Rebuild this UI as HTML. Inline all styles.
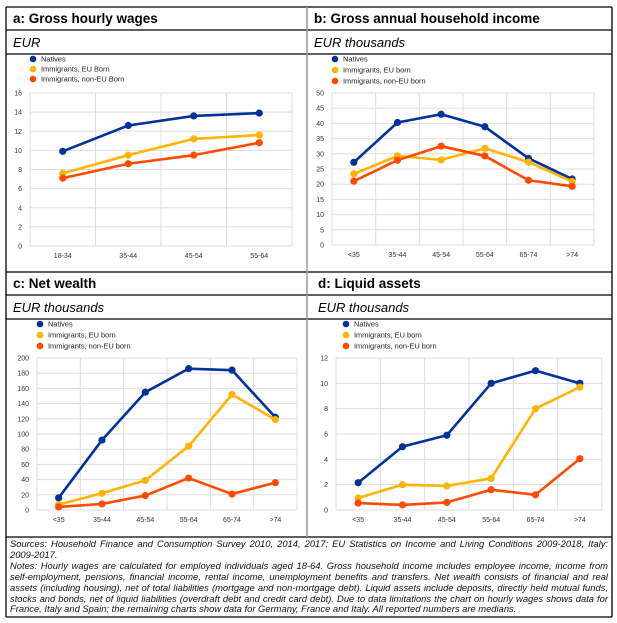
<!DOCTYPE html>
<html><head><meta charset="utf-8"><style>
body{margin:0;background:#fff;width:617px;height:623px;overflow:hidden;position:relative;font-family:"Liberation Sans",sans-serif}
svg{position:absolute;left:0;top:0}
#foot{position:absolute;left:10px;top:539px;width:598px;font-size:9.4px;line-height:10.9px;font-style:italic;color:#111;text-align:justify}
</style></head><body>
<svg id="s" width="617" height="623"></svg>
<div id="foot">Sources: Household Finance and Consumption Survey 2010, 2014, 2017; EU Statistics on Income and Living Conditions 2009-2018, Italy: 2009-2017.<br>Notes: Hourly wages are calculated for employed individuals aged 18-64. Gross household income includes employee income, income from self-employment, pensions, financial income, rental income, unemployment benefits and transfers. Net wealth consists of financial and real assets (including housing), net of total liabilities (mortgage and non-mortgage debt). Liquid assets include deposits, directly held mutual funds, stocks and bonds, net of liquid liabilities (overdraft debt and credit card debt). Due to data limitations the chart on hourly wages shows data for France, Italy and Spain; the remaining charts show data for Germany, France and Italy. All reported numbers are medians.</div>
<script>
const catsA=["18-34","35-44","45-54","55-64"];
const catsB=["<35","35-44","45-54","55-64","65-74",">74"];
const aNat=[9.9,12.6,13.6,13.9];
const aEU=[7.6,9.5,11.2,11.6];
const aNon=[7.1,8.6,9.5,10.8];
const bNat=[27.2,40.3,43,38.9,28.5,21.7];
const bEU=[23.4,29.3,28,31.8,27.3,20.9];
const bNon=[21,27.9,32.5,29.3,21.3,19.3];
const cNat=[16,92,155,186,184,122];
const cEU=[7,22,39,84,152,119];
const cNon=[4,8,19,42,21,36];
const dNat=[2.15,5,5.9,10,11,10];
const dEU=[0.95,2,1.9,2.5,8,9.7];
const dNon=[0.55,0.4,0.6,1.6,1.2,4.05];
const ticksA=[0,2,4,6,8,10,12,14,16];
const ticksB=[0,5,10,15,20,25,30,35,40,45,50];
const ticksC=[0,20,40,60,80,100,120,140,160,180,200];
const ticksD=[0,2,4,6,8,10,12];
const COL=["#003299","#ffb400","#ff4b00"];
const NS="http://www.w3.org/2000/svg";
const svg=document.getElementById('s');
function el(t,a,p){const e=document.createElementNS(NS,t);for(const k in a)e.setAttribute(k,a[k]);(p||svg).appendChild(e);return e;}
function ln(x1,y1,x2,y2,w){return el('line',{x1,y1,x2,y2,stroke:'#000','stroke-width':w||1.3});}
ln(6,7,612,7);ln(6,30,612,30);ln(6,54,612,54);ln(6,272,612,272);ln(6,295,612,295);ln(6,319,612,319);ln(6,537,612,537);ln(6,617,612,617);
ln(6,7,6,617);ln(612,7,612,617);
el('line',{x1:307,y1:7,x2:307,y2:537,stroke:'#999','stroke-width':1.5});
function panel(o){
  const g=el('g',{});
  
  
  const t=el('text',{x:o.tx,y:o.ty,'font-size':13.5,'font-weight':'bold',fill:'#000'},g);t.textContent=o.title;
  
  const st=el('text',{x:o.tx,y:o.ty+24,'font-size':13,'font-style':'italic',fill:'#000'},g);st.textContent=o.sub;
  
  const n=o.cats.length,bw=(o.x1-o.x0)/n;
  const xs=i=>o.x0+bw*(i+0.5);
  const ymax=o.ticks[o.ticks.length-1];
  const ys=v=>o.y1-(v/ymax)*(o.y1-o.y0);
  o.ticks.forEach(tv=>{
    el('line',{x1:o.x0,x2:o.x1,y1:ys(tv),y2:ys(tv),stroke:'#ddd','stroke-width':1},g);
    const tl=el('text',{x:o.x0-8,y:ys(tv)+2.5,'font-size':7,'text-anchor':'end',fill:'#333'},g);tl.textContent=tv;
    
  });
  for(let i=0;i<=n;i++)el('line',{x1:o.x0+bw*i,x2:o.x0+bw*i,y1:o.y0,y2:o.y1,stroke:'#ddd','stroke-width':1},g);
  o.cats.forEach((c,i)=>{const tl=el('text',{x:xs(i),y:o.y1+12,'font-size':7,'text-anchor':'middle',fill:'#333'},g);tl.textContent=c;
    });
  o.series.forEach((s,k)=>{
    const pts=s.map((v,i)=>xs(i)+','+ys(v)).join(' ');
    const pl=el('polyline',{points:pts,fill:'none',stroke:COL[k],'stroke-width':2.6,'stroke-linejoin':'round'},g);
    
    s.forEach((v,i)=>{const c=el('circle',{cx:xs(i),cy:ys(v),r:3.6,fill:COL[k]},g);
      });
  });
  o.leg.forEach((l,k)=>{
    const c=el('circle',{cx:o.lx,cy:o.ly+k*o.ls,r:3.3,fill:COL[k]},g);
    
    const tx=el('text',{x:o.lx+8,y:o.ly+k*o.ls+2.5,'font-size':7.4,fill:'#222'},g);tx.textContent=l;
    
  });
}
panel({name:'panel-a-wages',title:'a: Gross hourly wages',sub:'EUR',tx:13,ty:23,x0:30,x1:292,y0:93,y1:246,cats:catsA,ticks:ticksA,series:[aNat,aEU,aNon],
  leg:['Natives','Immigrants, EU Born','Immigrants, non-EU Born'],lx:33,ly:59,ls:10});
panel({name:'panel-b-income',title:'b: Gross annual household income',sub:'EUR thousands',tx:314,ty:23,x0:332,x1:594,y0:93,y1:245,cats:catsB,ticks:ticksB,series:[bNat,bEU,bNon],
  leg:['Natives','Immigrants, EU born','Immigrants, non-EU born'],lx:335,ly:59,ls:11});
panel({name:'panel-c-wealth',title:'c: Net wealth',sub:'EUR thousands',tx:13,ty:288,x0:37,x1:297,y0:358,y1:510,cats:catsB,ticks:ticksC,series:[cNat,cEU,cNon],
  leg:['Natives','Immigrants, EU born','Immigrants, non-EU born'],lx:40,ly:324,ls:11});
panel({name:'panel-d-liquid',title:'d: Liquid assets',sub:'EUR thousands',tx:318,ty:288,x0:336,x1:602,y0:358,y1:510,cats:catsB,ticks:ticksD,series:[dNat,dEU,dNon],
  leg:['Natives','Immigrants, EU born','Immigrants, non-EU born'],lx:346,ly:324,ls:11});
</script>
</body></html>
